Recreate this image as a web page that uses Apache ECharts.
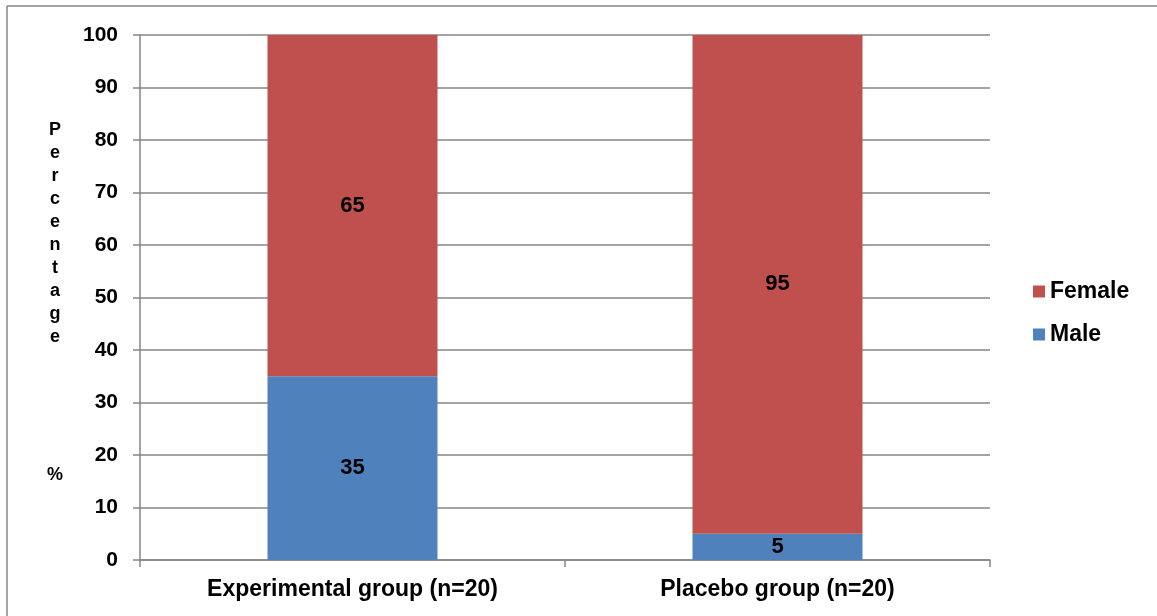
<!DOCTYPE html>
<html><head><meta charset="utf-8">
<script src="https://cdn.jsdelivr.net/npm/echarts@6/dist/echarts.min.js"></script>
<style>html,body{margin:0;padding:0;background:#fff}#c{width:1157px;height:616px}</style>
</head><body><div id="c"></div>
<script>
var categories = ['Experimental group (n=20)', 'Placebo group (n=20)'];
var maleValues = [35, 5];
var femaleValues = [65, 95];
var yTicks = [0, 100, 10];
var yTitle = 'P\ne\nr\nc\ne\nn\nt\na\ng\ne\n\n\n\n\n\n%';

var font = '"Liberation Sans", Arial, sans-serif';
var chart = echarts.init(document.getElementById('c'));
chart.setOption({
  animation: false,
  textStyle: {fontFamily: font},
  grid: {left: 140, right: 167, top: 35, bottom: 56, containLabel: false},
  legend: {
    orient: 'vertical', left: 1028, top: 275, itemGap: 20, itemWidth: 12, itemHeight: 12,
    icon: 'rect', data: ['Female', 'Male'],
    textStyle: {fontFamily: font, fontWeight: 'bold', fontSize: 23, color: '#000'}
  },
  xAxis: {
    type: 'category', data: categories,
    axisLine: {lineStyle: {color: '#868686', width: 1.5}},
    axisTick: {show: true, length: 7, lineStyle: {color: '#868686', width: 1.5}},
    axisLabel: {fontFamily: font, fontWeight: 'bold', fontSize: 23, color: '#000', margin: 18}
  },
  yAxis: {
    type: 'value', min: yTicks[0], max: yTicks[1], interval: yTicks[2],
    axisLine: {show: true, lineStyle: {color: '#868686', width: 1.5}},
    axisTick: {show: true, length: 7, lineStyle: {color: '#868686', width: 1.5}},
    splitLine: {lineStyle: {color: '#868686', width: 1.5}},
    axisLabel: {fontFamily: font, fontWeight: 'bold', fontSize: 21, color: '#000', margin: 22}
  },
  series: [
    {name: 'Male', type: 'bar', stack: 's', data: maleValues, barWidth: '40%',
     itemStyle: {color: '#4F81BD'},
     label: {show: true, position: 'inside', fontFamily: font, fontWeight: 'bold', fontSize: 22, color: '#000'}},
    {name: 'Female', type: 'bar', stack: 's', data: femaleValues, barWidth: '40%',
     itemStyle: {color: '#C0504D'},
     label: {show: true, position: 'inside', fontFamily: font, fontWeight: 'bold', fontSize: 22, color: '#000'}}
  ],
  graphic: [
    {type: 'line', shape: {x1: 7, y1: 6, x2: 1157, y2: 6}, style: {stroke: '#868686', lineWidth: 1.5}},
    {type: 'line', shape: {x1: 7, y1: 6, x2: 7, y2: 616}, style: {stroke: '#868686', lineWidth: 1.5}},
    {type: 'text', left: 47, top: 119, style: {text: yTitle, fontFamily: font, fontWeight: 'bold', fontSize: 18, lineHeight: 23, fill: '#000', textAlign: 'center'}}
  ]
});
</script></body></html>
